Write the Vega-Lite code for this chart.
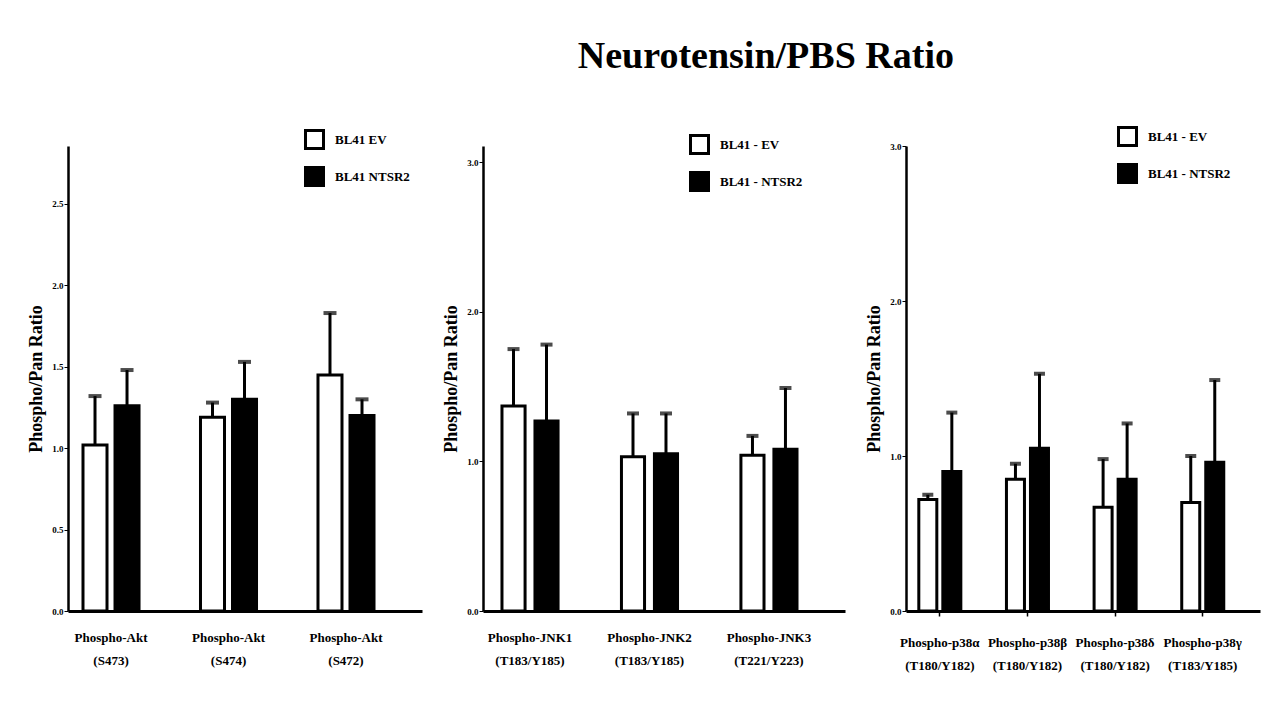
{
  "$schema": "https://vega.github.io/schema/vega-lite/v6.json",
  "background": "white",
  "padding": {"left": 27, "top": 38, "right": 20, "bottom": 10},
  "title": {"text": "Neurotensin/PBS Ratio", "font": "Liberation Serif", "fontSize": 38, "fontWeight": "bold", "color": "black", "anchor": "middle", "dx": 122, "offset": 50},
  "datasets": {
    "d": [
      {"panel": "Akt", "cat": "Phospho-Akt|(S473)", "group": "BL41 EV", "value": 1.02, "upper": 1.32},
      {"panel": "Akt", "cat": "Phospho-Akt|(S473)", "group": "BL41 NTSR2", "value": 1.26, "upper": 1.48},
      {"panel": "Akt", "cat": "Phospho-Akt|(S474)", "group": "BL41 EV", "value": 1.19, "upper": 1.28},
      {"panel": "Akt", "cat": "Phospho-Akt|(S474)", "group": "BL41 NTSR2", "value": 1.30, "upper": 1.53},
      {"panel": "Akt", "cat": "Phospho-Akt|(S472)", "group": "BL41 EV", "value": 1.45, "upper": 1.83},
      {"panel": "Akt", "cat": "Phospho-Akt|(S472)", "group": "BL41 NTSR2", "value": 1.20, "upper": 1.30},
      {"panel": "JNK", "cat": "Phospho-JNK1|(T183/Y185)", "group": "BL41 - EV", "value": 1.37, "upper": 1.75},
      {"panel": "JNK", "cat": "Phospho-JNK1|(T183/Y185)", "group": "BL41 - NTSR2", "value": 1.27, "upper": 1.78},
      {"panel": "JNK", "cat": "Phospho-JNK2|(T183/Y185)", "group": "BL41 - EV", "value": 1.03, "upper": 1.32},
      {"panel": "JNK", "cat": "Phospho-JNK2|(T183/Y185)", "group": "BL41 - NTSR2", "value": 1.05, "upper": 1.32},
      {"panel": "JNK", "cat": "Phospho-JNK3|(T221/Y223)", "group": "BL41 - EV", "value": 1.04, "upper": 1.17},
      {"panel": "JNK", "cat": "Phospho-JNK3|(T221/Y223)", "group": "BL41 - NTSR2", "value": 1.08, "upper": 1.49},
      {"panel": "p38", "cat": "Phospho-p38α|(T180/Y182)", "group": "BL41 - EV", "value": 0.72, "upper": 0.75},
      {"panel": "p38", "cat": "Phospho-p38α|(T180/Y182)", "group": "BL41 - NTSR2", "value": 0.90, "upper": 1.28},
      {"panel": "p38", "cat": "Phospho-p38β|(T180/Y182)", "group": "BL41 - EV", "value": 0.85, "upper": 0.95},
      {"panel": "p38", "cat": "Phospho-p38β|(T180/Y182)", "group": "BL41 - NTSR2", "value": 1.05, "upper": 1.53},
      {"panel": "p38", "cat": "Phospho-p38δ|(T180/Y182)", "group": "BL41 - EV", "value": 0.67, "upper": 0.98},
      {"panel": "p38", "cat": "Phospho-p38δ|(T180/Y182)", "group": "BL41 - NTSR2", "value": 0.85, "upper": 1.21},
      {"panel": "p38", "cat": "Phospho-p38γ|(T183/Y185)", "group": "BL41 - EV", "value": 0.70, "upper": 1.00},
      {"panel": "p38", "cat": "Phospho-p38γ|(T183/Y185)", "group": "BL41 - NTSR2", "value": 0.96, "upper": 1.49}
    ]
  },
  "spacing": 20,
  "resolve": {
    "scale": {"x": "independent", "y": "independent", "xOffset": "independent", "fill": "independent"},
    "legend": {"fill": "independent"}
  },
  "hconcat": [
    {
      "width": 354, "height": 465,
      "data": {"name": "d"},
      "transform": [{"filter": "datum.panel == 'Akt'"}],
      "encoding": {
        "x": {"field": "cat", "type": "nominal", "sort": null, "title": null,
              "scale": {"paddingInner": 0.455, "paddingOuter": 0.234, "align": 0.2},
              "axis": {"labelExpr": "split(datum.label, '|')", "ticks": false}},
        "xOffset": {"field": "group", "type": "nominal", "sort": null, "scale": {"paddingInner": 0.25, "paddingOuter": 0.125}}
      },
      "layer": [
        {"mark": {"type": "bar", "stroke": "black", "strokeWidth": 3},
         "encoding": {
           "y": {"field": "value", "type": "quantitative", "title": "Phospho/Pan Ratio", "scale": {"domain": [0, 2.856], "nice": false}, "axis": {"values": [0, 0.5, 1, 1.5, 2, 2.5]}},
           "fill": {"field": "group", "type": "nominal", "sort": null, "scale": {"domain": ["BL41 EV", "BL41 NTSR2"], "range": ["white", "black"]},
                    "legend": {"orient": "none", "legendX": 236, "legendY": -17}}
         }},
        {"mark": {"type": "rule", "strokeWidth": 3, "color": "black"},
         "encoding": {"y": {"field": "value", "type": "quantitative", "title": "Phospho/Pan Ratio"}, "y2": {"field": "upper"}}},
        {"mark": {"type": "tick", "color": "black", "thickness": 4, "size": 13},
         "encoding": {"y": {"field": "upper", "type": "quantitative", "title": "Phospho/Pan Ratio"}}}
      ]
    },
    {
      "width": 362, "height": 465,
      "data": {"name": "d"},
      "transform": [{"filter": "datum.panel == 'JNK'"}],
      "encoding": {
        "x": {"field": "cat", "type": "nominal", "sort": null, "title": null,
              "scale": {"paddingInner": 0.498, "paddingOuter": 0.264, "align": 0.27},
              "axis": {"labelExpr": "split(datum.label, '|')", "ticks": false}},
        "xOffset": {"field": "group", "type": "nominal", "sort": null, "scale": {"paddingInner": 0.3, "paddingOuter": 0.059}}
      },
      "layer": [
        {"mark": {"type": "bar", "stroke": "black", "strokeWidth": 3},
         "encoding": {
           "y": {"field": "value", "type": "quantitative", "title": "Phospho/Pan Ratio", "scale": {"domain": [0, 3.107], "nice": false}, "axis": {"values": [0, 1, 2, 3]}},
           "fill": {"field": "group", "type": "nominal", "sort": null, "scale": {"domain": ["BL41 - EV", "BL41 - NTSR2"], "range": ["white", "black"]},
                    "legend": {"orient": "none", "legendX": 206, "legendY": -12}}
         }},
        {"mark": {"type": "rule", "strokeWidth": 3, "color": "black"},
         "encoding": {"y": {"field": "value", "type": "quantitative", "title": "Phospho/Pan Ratio"}, "y2": {"field": "upper"}}},
        {"mark": {"type": "tick", "color": "black", "thickness": 4, "size": 12},
         "encoding": {"y": {"field": "upper", "type": "quantitative", "title": "Phospho/Pan Ratio"}}}
      ]
    },
    {
      "width": 354, "height": 465,
      "data": {"name": "d"},
      "transform": [{"filter": "datum.panel == 'p38'"}],
      "encoding": {
        "x": {"field": "cat", "type": "nominal", "sort": null, "title": null,
              "scale": {"paddingInner": 0.475, "paddingOuter": 0.257, "align": 0.24},
              "axis": {"labelExpr": "split(datum.label, '|')", "ticks": true, "tickSize": 5, "tickWidth": 1.5, "tickColor": "black"}},
        "xOffset": {"field": "group", "type": "nominal", "sort": null, "scale": {"paddingInner": 0.25, "paddingOuter": 0.083}}
      },
      "layer": [
        {"mark": {"type": "bar", "stroke": "black", "strokeWidth": 3},
         "encoding": {
           "y": {"field": "value", "type": "quantitative", "title": "Phospho/Pan Ratio", "scale": {"domain": [0, 3], "nice": false}, "axis": {"values": [0, 1, 2, 3]}},
           "fill": {"field": "group", "type": "nominal", "sort": null, "scale": {"domain": ["BL41 - EV", "BL41 - NTSR2"], "range": ["white", "black"]},
                    "legend": {"orient": "none", "legendX": 211, "legendY": -20}}
         }},
        {"mark": {"type": "rule", "strokeWidth": 3, "color": "black"},
         "encoding": {"y": {"field": "value", "type": "quantitative", "title": "Phospho/Pan Ratio"}, "y2": {"field": "upper"}}},
        {"mark": {"type": "tick", "color": "black", "thickness": 4, "size": 11},
         "encoding": {"y": {"field": "upper", "type": "quantitative", "title": "Phospho/Pan Ratio"}}}
      ]
    }
  ],
  "config": {
    "view": {"stroke": null},
    "font": "Liberation Serif",
    "axis": {"grid": false, "domainColor": "black", "tickColor": "black", "labelColor": "black", "titleColor": "black", "labelFont": "Liberation Serif", "titleFont": "Liberation Serif", "labelFontWeight": "bold", "titleFontWeight": "bold"},
    "axisY": {"labelFontSize": 9, "format": ".1f", "tickSize": 4, "tickWidth": 1, "domainWidth": 2.5, "labelPadding": 1, "titleFontSize": 18, "titlePadding": 6},
    "axisX": {"labelAngle": 0, "labelFontSize": 13, "labelPadding": 20, "labelLineHeight": 23, "domainWidth": 3, "labelBaseline": "top"},
    "legend": {"title": null, "symbolType": "square", "symbolSize": 324, "symbolStrokeColor": "black", "symbolStrokeWidth": 3, "labelFont": "Liberation Serif", "labelFontWeight": "bold", "labelFontSize": 13, "labelColor": "black", "labelOffset": 10, "rowPadding": 6}
  }
}
